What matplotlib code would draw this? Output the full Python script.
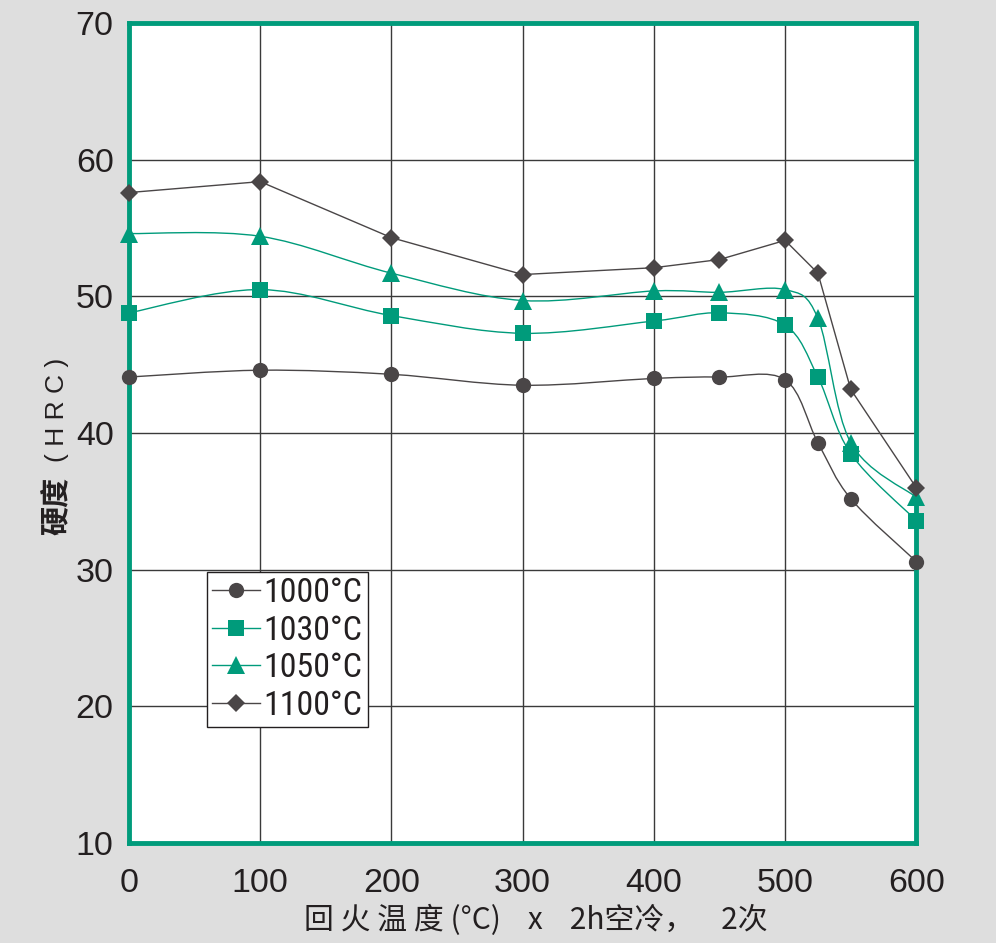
import matplotlib
matplotlib.use("Agg")
import matplotlib.pyplot as plt
from matplotlib.path import Path
from matplotlib.patches import PathPatch
from matplotlib.lines import Line2D
import numpy as np

temps = [0, 100, 200, 300, 400, 450, 500, 525, 550, 600]
hrc_1000 = [44.1, 44.6, 44.3, 43.5, 44.0, 44.1, 43.9, 39.3, 35.2, 30.6]
hrc_1030 = [48.8, 50.5, 48.6, 47.3, 48.2, 48.8, 47.9, 44.1, 38.5, 33.6]
hrc_1050 = [54.6, 54.4, 51.7, 49.7, 50.4, 50.3, 50.5, 48.4, 39.3, 35.3]
hrc_1100 = [57.6, 58.4, 54.3, 51.6, 52.1, 52.7, 54.1, 51.7, 43.2, 36.0]
labels = ["1000°C", "1030°C", "1050°C", "1100°C"]
xticks = [0, 100, 200, 300, 400, 500, 600]
yticks = [10, 20, 30, 40, 50, 60, 70]

GREEN = "#009b7b"
DARK = "#4a4647"
BG = "#dedede"
TXT = "#231f20"

def smooth_path(xs, ys, t=1/6):
    p = np.column_stack([xs, ys]).astype(float)
    n = len(p)
    verts = [p[0]]
    codes = [Path.MOVETO]
    for i in range(n - 1):
        p0 = p[i - 1] if i > 0 else p[i]
        p1 = p[i]
        p2 = p[i + 1]
        p3 = p[i + 2] if i + 2 < n else p[i + 1]
        c1 = p1 + (p2 - p0) * t
        c2 = p2 - (p3 - p1) * t
        verts += [c1, c2, p2]
        codes += [Path.CURVE4] * 3
    return Path(verts, codes)

fig = plt.figure(figsize=(9.96, 9.43), dpi=100, facecolor=BG)
ax = fig.add_axes([0.1295, 0.106, 0.7905, 0.8695])
ax.set_facecolor("white")
ax.set_xlim(0, 600)
ax.set_ylim(10, 70)
ax.set_xticks(xticks)
ax.set_yticks(yticks)
ax.grid(True, color="#3a3a3a", linewidth=1.0)
ax.set_axisbelow(True)
for s in ax.spines.values():
    s.set_color(GREEN)
    s.set_linewidth(3.5)
    s.set_zorder(5)
ax.tick_params(length=0, labelsize=24.5, colors=TXT)
ax.tick_params(axis="x", pad=18)
ax.tick_params(axis="y", pad=11)
for lab in ax.get_xticklabels() + ax.get_yticklabels():
    lab.set_fontfamily(["Liberation Sans", "DejaVu Sans"])

series = [
    (hrc_1000, DARK, "o", 11, True),
    (hrc_1030, GREEN, "s", 11.5, True),
    (hrc_1050, GREEN, "^", 12.5, True),
    (hrc_1100, DARK, "D", 9, False),
]
handles = []
for (vals, col, mk, ms, smooth), lab in zip(series, labels):
    if smooth:
        patch = PathPatch(smooth_path(temps, vals), facecolor="none",
                          edgecolor=col, linewidth=1.0, zorder=3, clip_on=False)
        ax.add_patch(patch)
    else:
        ax.plot(temps, vals, color=col, linewidth=1.0, zorder=3, clip_on=False)
    ax.plot(temps, vals, linestyle="none", marker=mk, markersize=ms,
            color=col, markeredgewidth=0, zorder=6, clip_on=False)
    handles.append(Line2D([], [], color=col, linewidth=1.0, marker=mk,
                          markersize=ms, markeredgewidth=0))

leg = ax.legend(handles, labels, loc="lower left",
                bbox_to_anchor=(0.099, 0.142), fancybox=False,
                framealpha=1, edgecolor=TXT, handlelength=1.4,
                handletextpad=0.12, labelspacing=0.16, borderpad=0.15,
                borderaxespad=0,
                prop={"family": ["Roboto Condensed", "Liberation Sans"],
                      "stretch": "condensed", "size": 24.5})
leg.get_frame().set_linewidth(1.0)
leg.set_zorder(10)
for t in leg.get_texts():
    t.set_color(TXT)

cjk = ["Noto Sans CJK SC", "DejaVu Sans"]
fig.text(0.5375, 0.0235, "回 火 温 度 (°C)    x    2h空冷，    2次", ha="center",
         va="center", fontsize=21.5, family=cjk, color=TXT)
fig.text(0.057, 1 - 535 / 943, "硬度", rotation=90, ha="center", va="bottom",
         fontsize=21, family=cjk, fontweight="bold", color=TXT)
fig.text(0.057, 1 - 462 / 943, "( H R C )", rotation=90, ha="center", va="bottom",
         fontsize=19, family=["Liberation Sans", "DejaVu Sans"], color=TXT)

fig.savefig("out.png", dpi=100, facecolor=BG)
